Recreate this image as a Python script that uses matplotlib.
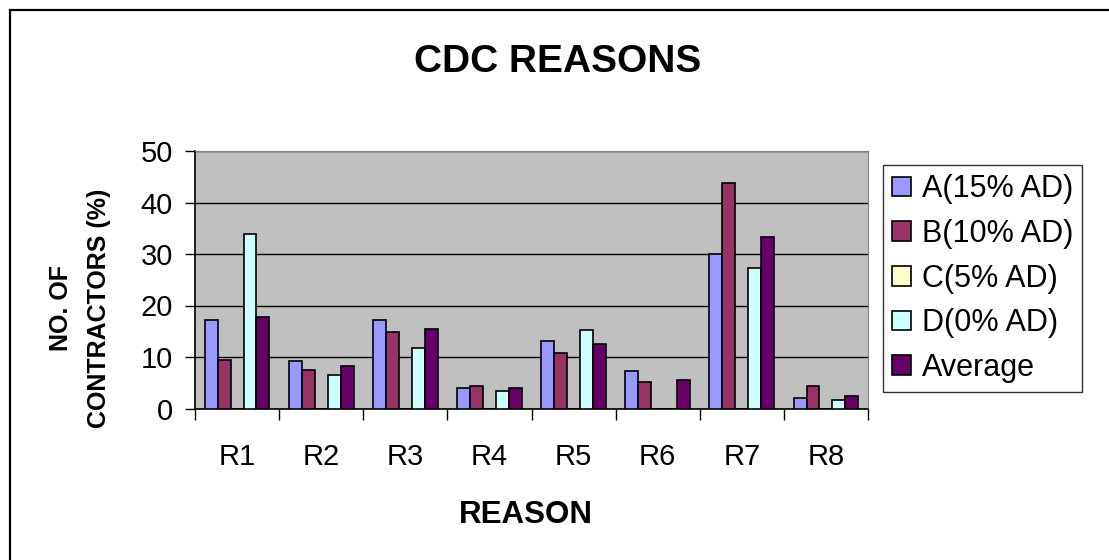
import matplotlib
matplotlib.use('Agg')
import matplotlib.pyplot as plt
import numpy as np
from matplotlib.patches import Rectangle

plt.rcParams['font.family'] = ['Liberation Sans', 'DejaVu Sans']

reasons = ['R1', 'R2', 'R3', 'R4', 'R5', 'R6', 'R7', 'R8']
series_names = ['A(15% AD)', 'B(10% AD)', 'C(5% AD)', 'D(0% AD)', 'Average']
a_vals = [17.2, 9.3, 17.2, 3.9, 13.1, 7.2, 30.0, 2.0]
b_vals = [9.5, 7.5, 14.9, 4.3, 10.7, 5.2, 43.8, 4.3]
c_vals = [0, 0, 0, 0, 0, 0, 0, 0]
d_vals = [33.9, 6.6, 11.7, 3.4, 15.2, 0, 27.2, 1.6]
avg_vals = [17.8, 8.3, 15.5, 3.9, 12.6, 5.5, 33.3, 2.5]
colors = ['#9999FF', '#993366', '#FFFFCC', '#CCFFFF', '#660066']

W, H = 1109, 560
fig = plt.figure(figsize=(W / 100, H / 100), dpi=100)

# chart frame, runs off the right and bottom edges
fig.add_artist(Rectangle((10 / W, -0.1), 1.2, 1.1 - 10 / H, transform=fig.transFigure,
                         fill=False, edgecolor='black', lw=1.6, clip_on=False))

ax = fig.add_axes([195 / W, 1 - 408.5 / H, (868 - 195) / W, (408.5 - 151) / H])
ax.set_facecolor('#C0C0C0')

x = np.arange(len(reasons))
w = 1 / 6.5
all_vals = [a_vals, b_vals, c_vals, d_vals, avg_vals]
for k, (vals, name, col) in enumerate(zip(all_vals, series_names, colors)):
    ax.bar(x + (k - 2) * w, vals, width=w, color=col, edgecolor='black',
           linewidth=1.2, label=name, zorder=3)

ax.set_xlim(-0.5, len(reasons) - 0.5)
ax.set_ylim(0, 50)
ax.set_yticks(range(0, 51, 10))
ax.yaxis.grid(True, color='black', linewidth=1, zorder=1)
ax.tick_params(axis='y', direction='out', length=7, width=1, labelsize=21, pad=9)

ax.set_xticks(x)
ax.set_xticklabels(reasons)
ax.set_xticks(np.arange(-0.5, len(reasons)), minor=True)
ax.tick_params(axis='x', which='major', length=0, labelsize=21, pad=25)
ax.tick_params(axis='x', which='minor', length=8, width=1, direction='out')

for s in ['top', 'right']:
    ax.spines[s].set_color('#808080')
for s in ['left', 'bottom']:
    ax.spines[s].set_color('black')
    ax.spines[s].set_linewidth(1.2)

fig.text(558 / W, 1 - 62 / H, 'CDC REASONS', ha='center', va='center',
         fontsize=28, fontweight='bold')
fig.text(526 / W, 1 - 515 / H, 'REASON', ha='center', va='center',
         fontsize=22.5, fontweight='bold')
fig.text(80 / W, 1 - 308 / H, 'NO. OF\nCONTRACTORS (%)', ha='center', va='center',
         rotation=90, fontsize=18, fontweight='bold', linespacing=1.75,
         multialignment='center')

leg = fig.legend(loc='upper left', bbox_to_anchor=(883 / W, 1 - 165 / H),
                 bbox_transform=fig.transFigure, fontsize=22, frameon=True,
                 fancybox=False, handlelength=0.62, handleheight=0.62,
                 handletextpad=0.35, labelspacing=0.48, borderpad=0.3,
                 borderaxespad=0)
leg.get_frame().set_edgecolor('black')
leg.get_frame().set_linewidth(1)

fig.savefig('out.png', dpi=100)
